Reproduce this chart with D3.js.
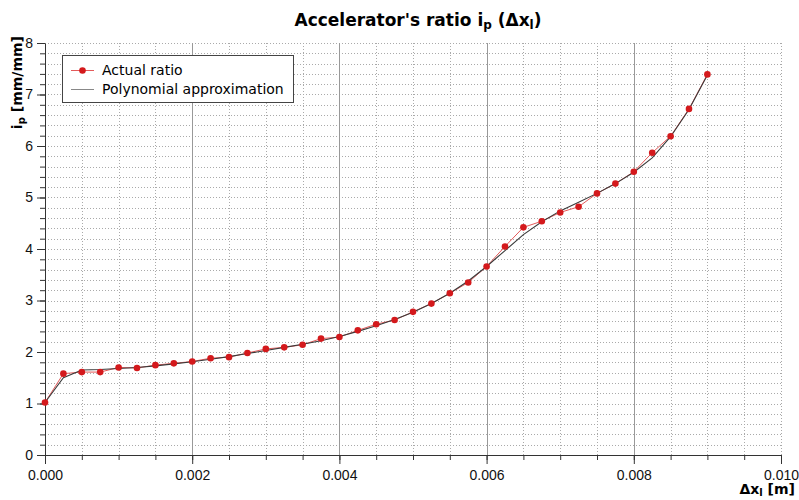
<!DOCTYPE html>
<html>
<head>
<meta charset="utf-8">
<script src="https://cdnjs.cloudflare.com/ajax/libs/d3/7.9.0/d3.min.js"></script>
<style>
  body { margin: 0; background: #fff; }
  svg { font-family: "DejaVu Sans", Verdana, sans-serif; }
  .axis path, .axis line { stroke: #333; }
  .axis text { font-size: 14px; fill: #111; }
</style>
</head>
<body>
<script>
// x positions of the measured points [m]
const dx = [0, 0.00025, 0.0005, 0.00075, 0.001, 0.00125, 0.0015, 0.00175, 0.002,
  0.00225, 0.0025, 0.00275, 0.003, 0.00325, 0.0035, 0.00375, 0.004, 0.00425,
  0.0045, 0.00475, 0.005, 0.00525, 0.0055, 0.00575, 0.006, 0.00625, 0.0065,
  0.00675, 0.007, 0.00725, 0.0075, 0.00775, 0.008, 0.00825, 0.0085, 0.00875, 0.009];

// actual ratio [mm/mm]
const actual = [1.02, 1.58, 1.61, 1.61, 1.70, 1.69, 1.745, 1.78, 1.815,
  1.88, 1.90, 1.98, 2.06, 2.09, 2.14, 2.26, 2.29, 2.42,
  2.54, 2.62, 2.78, 2.94, 3.14, 3.35, 3.66, 4.05, 4.42,
  4.54, 4.71, 4.82, 5.08, 5.27, 5.50, 5.87, 6.19, 6.72, 7.39];

// polynomial approximation read at the same x positions
const poly = [1.02, 1.50, 1.65, 1.66, 1.68, 1.70, 1.73, 1.77, 1.81,
  1.86, 1.91, 1.97, 2.03, 2.09, 2.15, 2.22, 2.30, 2.40,
  2.51, 2.63, 2.77, 2.94, 3.14, 3.38, 3.66, 3.97, 4.28,
  4.53, 4.74, 4.91, 5.08, 5.27, 5.49, 5.77, 6.18, 6.71, 7.38];

const xTicks = [0, 0.002, 0.004, 0.006, 0.008, 0.010];
const yTicks = [0, 1, 2, 3, 4, 5, 6, 7, 8];

const width = 799, height = 500;
const mLeft = 45, mRight = 781, mTop = 43, mBottom = 455;

const svg = d3.select("body").append("svg")
  .attr("width", width).attr("height", height);

const x = d3.scaleLinear().domain([0, 0.010]).range([mLeft, mRight]);
const y = d3.scaleLinear().domain([0, 8]).range([mBottom, mTop]);

// grid
const xMinor = d3.range(0, 0.01001, 0.0005);
const yMinor = d3.range(0.2, 8.001, 0.2);
const isMajorX = d => { const k = Math.round(d / 0.0005); return k % 4 === 0 && k < 20; };
const grid = svg.append("g");
grid.selectAll(".hg").data(yMinor).enter().append("line")
  .attr("x1", mLeft).attr("x2", mRight)
  .attr("y1", d => Math.round(y(d)) + 0.5).attr("y2", d => Math.round(y(d)) + 0.5)
  .attr("stroke", "#aaa").attr("stroke-dasharray", "1,2");
grid.selectAll(".vg").data(xMinor.filter(d => d > 0)).enter().append("line")
  .attr("x1", d => Math.round(x(d)) + 0.5).attr("x2", d => Math.round(x(d)) + 0.5)
  .attr("y1", mTop).attr("y2", mBottom)
  .attr("stroke", d => isMajorX(d) ? "#999" : "#aaa")
  .attr("stroke-dasharray", d => isMajorX(d) ? null : "1,2");

// axes
const xAxis = svg.append("g").attr("class", "axis")
  .attr("transform", `translate(0,${mBottom})`)
  .call(d3.axisBottom(x).tickValues(xTicks).tickFormat(d3.format(".3f")).tickSize(9).tickSizeOuter(0));
xAxis.selectAll("text").attr("dy", "0.9em").attr("font-size", 15);
svg.append("g").attr("class", "axis")
  .attr("transform", `translate(0,${mBottom})`)
  .call(d3.axisBottom(x).tickValues(xMinor).tickFormat("").tickSize(5).tickSizeOuter(0))
  .select(".domain").remove();

svg.append("g").attr("class", "axis")
  .attr("transform", `translate(${mLeft},0)`)
  .call(d3.axisLeft(y).tickValues(yTicks).tickSize(8).tickSizeOuter(0))
  .selectAll("text").attr("dx", "-1px").attr("font-size", 15);
svg.append("g").attr("class", "axis")
  .attr("transform", `translate(${mLeft},0)`)
  .call(d3.axisLeft(y).tickValues(yMinor).tickFormat("").tickSize(5).tickSizeOuter(0))
  .select(".domain").remove();

// series
const line = d3.line().x(d => x(d[0])).y(d => y(d[1]));
svg.append("path").datum(dx.map((d, i) => [d, actual[i]]))
  .attr("d", line).attr("fill", "none")
  .attr("stroke", "#e35a5a").attr("stroke-width", 1);
svg.append("path").datum(dx.map((d, i) => [d, poly[i]]))
  .attr("d", line).attr("fill", "none")
  .attr("stroke", "#3a3a3a").attr("stroke-width", 1.1);
svg.append("g").selectAll("circle").data(dx).enter().append("circle")
  .attr("cx", d => x(d)).attr("cy", (d, i) => y(actual[i]))
  .attr("r", 3.3).attr("fill", "#d4191c");

// title
const title = svg.append("text").attr("x", 418).attr("y", 26)
  .attr("text-anchor", "middle").attr("font-size", 17).attr("font-weight", "bold");
title.append("tspan").text("Accelerator's ratio i");
title.append("tspan").attr("font-size", 12).attr("dy", 3).text("p");
title.append("tspan").attr("dy", -3).text(" (Δx");
title.append("tspan").attr("font-size", 12).attr("dy", 3).text("l");
title.append("tspan").attr("dy", -3).text(")");

// y label
const yl = svg.append("text").attr("transform", "translate(22,36) rotate(-90)")
  .attr("text-anchor", "end").attr("font-size", 14).attr("font-weight", "bold");
yl.append("tspan").text("i");
yl.append("tspan").attr("font-size", 10).attr("dy", 3).text("p");
yl.append("tspan").attr("dy", -3).text(" [mm/mm]");

// x label
const xl = svg.append("text").attr("x", 795).attr("y", 494)
  .attr("text-anchor", "end").attr("font-size", 14).attr("font-weight", "bold");
xl.append("tspan").text("Δx");
xl.append("tspan").attr("font-size", 10).attr("dy", 2).text("l");
xl.append("tspan").attr("dy", -2).text(" [m]");

// legend
const lg = svg.append("g").attr("transform", "translate(62,55)");
lg.append("rect").attr("x", 0.5).attr("y", 0.5).attr("width", 231).attr("height", 47)
  .attr("fill", "#fff").attr("stroke", "#444");
lg.append("line").attr("x1", 9).attr("x2", 32).attr("y1", 15.5).attr("y2", 15.5)
  .attr("stroke", "#e35a5a");
lg.append("circle").attr("cx", 20.5).attr("cy", 15.5).attr("r", 3.3).attr("fill", "#d4191c");
lg.append("line").attr("x1", 9).attr("x2", 32).attr("y1", 34.5).attr("y2", 34.5)
  .attr("stroke", "#888");
lg.append("text").attr("x", 40).attr("y", 20).attr("font-size", 14).text("Actual ratio");
lg.append("text").attr("x", 40).attr("y", 39).attr("font-size", 14).text("Polynomial approximation");
</script>
</body>
</html>
